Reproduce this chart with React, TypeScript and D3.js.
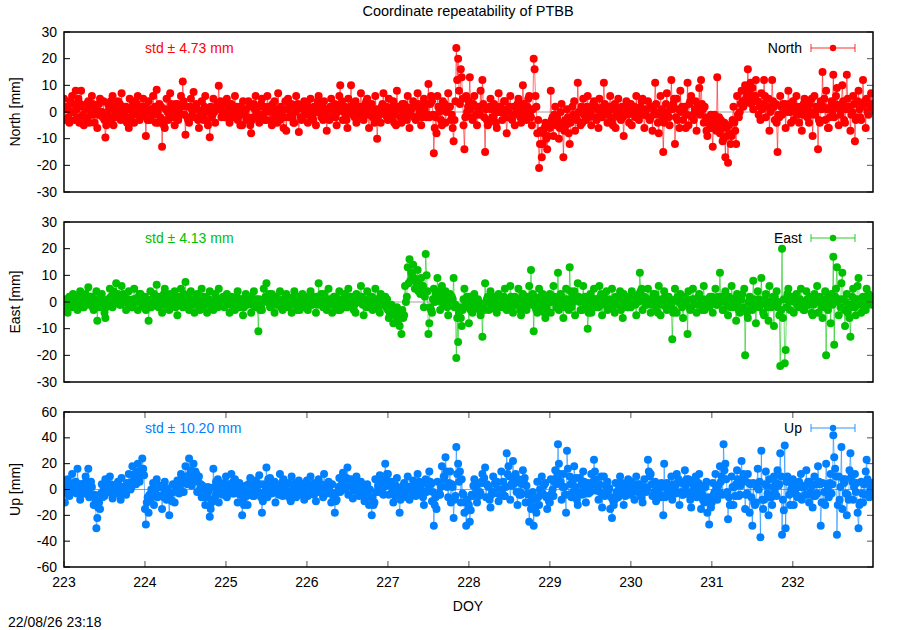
import * as d3 from 'd3';

// DOY of the first sample of each row; every row holds one day of samples, evenly spaced
const days = [223, 224, 225, 226, 227, 228, 229, 230, 231, 232];

const northRows = [
  [5, -3, 2, 1, 2, -2, -4, 4, 0, 6, 0, 3, -3, 8, 1, -2, 5, -4, 3, 8, 2, -1, -5, -2, 1, 3, -3, 4, -4, 1, -1, 6, 3, -1, -4, 0, 2, -6, -1, 3, 5, 0, 0, -2, 4, -3, -9.6, -5, -1, 3, 1, -2, 4, -3, 6, -5, 2, 0, 1, -2, 4, -2, 3, -3, 7, 0, 2, -1, -3, 2, -4, 1, -6, 5, -2, 1, 0, 3, -4, 4, -1, 3, 6, 1, -3, -2, 2, 1, 5, -1],
  [2, -9, 0, -3, 4, 1, -3, 1, -1, 6, -1, 2, -4, 8.3, 0, -4, 3, -2, 2, -13, -3, -5, -6, 1, 5, 0, -3, -2, 7, 3, 2, 0, -2, -5, 3, 1, 3, -3, 0, -1, 6, 2, 11.4, 4, -1, -8.5, 2, -2, -3, -4, 2, 5, 1, -1, 7.5, -2, 1, 3, 1, -3, -6, -2, 0, 4, -1, -3, 2, 6, 0, -3, -5, 1, -9.5, 2, -2, -1, 5, 0, -4, 1, 2, 3, 9.8, 1, 4, -2, -1, 0, 3, -2],
  [-2, 5, 0, 1, -4, 2, 3, -1, -2, 0, 6, 1, 2, -3, 0, 2, -5, -1, -5, 4, 1, 0, 1, -3, -2, 4, 2, -5, -8, -3, -2, 3, 1, 6, 0, -2, -1, -4, 2, 3, 5, -1, 2, -3, 0, -3, 6, 2, 1, 0, -3, -5, 3, 0, 4, -2, 1, -4, 7, -1, -3, 2, 0, 1, -6, -2, 4, -7, 1, 5, -2, 2, -1, 3, -2, -4, -4, 0, 6, 1, 3, -7.5, 2, -2, -3, -2, 1, 4, 0, -1],
  [3, -4, 0, 1, 5, -2, -1, -3, 2, 2, -5, 0, 4, 6, 1, 0, -2, 3, -3, 4, -1, 1, -7, -2, 1, -3, 2, 5, -2, 0, 2, 3, -2, -5, 0, 1, 6, 10, 3, 4, -3, 0, 2, -1, -3, -6, 5, 1, 2, 10, 0, -1, 3, -2, 4, -4, 1, 0, 2, -1, 7, -2, 2, -3, 0, 3, 4, 5, -1, -6, 1, 2, 3, -2, 0, -4, 6, 1, -10, -3, -1, 1, -4, 2, 3, 7, 0, -1, 2, -2],
  [-3, 5, 0, 1, -2, 2, 4, -4, -1, -5, 8, 1, 2, 1, -2, -4, 3, 0, 3, -1, 2, -3, 6, -1, -6, 0, 1, 2, 4, -2, -2, -3, 2, 7, 3, 0, 0, -5, -2, 2, 5, 1, 3, -2, -1, 10.5, -2, 3, 6, 4, -1, -15.5, -6, -2, -8, 6, 2, 0, 1, -3, -5, 4, 1, 3, -4, 0, 1, 7, 2, 2, -3, -1, -6, -11, -3, 4, 24, 12, 20, 8, 3, 16, 13, 5, -5, -14, -2, 6, 0, 2],
  [4, 13, 1, -2, -3, 3, 6, 2, -1, -5, 2, 0, -1, 8, 2, 12, 3, -2, -15, 1, -3, -5, -4, 2, 5, 1, -2, -2, 3, 1, -4, -6, 0, 7, 0, 2, 0, -3, 1, 4, 4, -1, -8, -2, 1, 2, 6, -1, -3, -1, 2, -5, 2, 0, 3, 5, -1, -2, -4, 1, 10, 3, -1, 1, -3, 2, 5, 6, 0, -2, -5, 1, 20, 16, 6, 2, -8, -3, -21, -12, -7, -17, -12, -8, -6, -4, -10, -14, -9, -5],
  [-6, 8, -3, -2, -9, -1, 2, -5, -2, -4, -10, -6, 0, 3, -4, -17, -7, -3, -5, 1, -2, -8, -12, -4, -2, 2, -1, 4, -7, -2, -3, 11, 0, 0, -5, 2, -4, 5, -1, 1, -3, 2, 6, -2, 0, -1, -5, 1, 3, 4, -2, 2, -3, 1, -6, 5, -1, 0, -2, 2, 11, 3, -1, 1, -4, 0, 2, 6, -2, -3, -5, 1, 3, -6, -1, 1, 5, -2, 0, -3, 2, -2, -9, -1, 2, 4, 0, -1, -4, 1],
  [3, -5, 1, 0, 2, -2, 6, -2, 1, -3, 0, 2, 4, 5, -1, -6, -1, 1, 1, 4, -2, -3, -2, 2, -7, 2, 0, 11, 3, -1, -4, -8, 0, 6, 1, -2, -15, -4, 0, 3, 7, -1, -2, -5, 2, 12, 1, 3, 5, -12, -2, 5, -3, 1, -6, 8, 0, 2, -3, 1, 2, -6, -1, 11, -5, 3, 4, 6, -2, -1, -3, 1, 4, -7, 2, 0, 9, -1, 12, 3, 1, -4, 2, -2, -7, -9, -4, -3, -6, -1],
  [-6, -13, -4, -1, -2, -7, 13, -5, -2, -8, -3, -6, -11, -10, -4, -17, -6, -9, -19, -5, -8, -12, -9, -3, 2, -4, -7, -12, 6, -1, -2, 0, 3, 8, 4, 2, 3, 10, 5, 6, 16, 8, 5, 11, 3, 9, 1, 6, 6, 12, 4, 4, -1, 2, -3, 7, 1, 3, 12, 6, -2, 5, 2, 5, -7, 0, 1, 12, 4, 2, -3, 3, -4, -15, -1, -2, 6, 2, -1, 3, 0, 3, -6, 1, 0, 8, 3, 0, -4, 2],
  [4, -3, 0, 1, 6, 2, -1, -4, 1, 2, -7, -1, 3, 5, 0, 0, -2, 2, -4, 3, -1, 5, -9, 0, 6, -1, 2, 1, -14, -3, -4, 4, 1, 15, 2, 5, -3, 8, 1, -6, -6, -2, 2, 4, 0, 14, -2, 3, 6, 9, 2, -5, 1, -1, 3, 10, 4, -3, -4, 1, 14, 5, 2, 2, -7, -1, 0, 6, 3, -11, -3, -2, 4, 8, 1, -2, -3, 2, 12, 3, 4, -6, 5, 0, -1, 0, 2, 7, 3, 1],
];

const eastRows = [
  [-3, 1, -2, -1, -4, 1, 2, 0, -1, -2, 3, 1, -1, 0, 2, -3, 2, 0, 4, 1, -1, -2, -2, 1, 3, 0, 2, 5.5, -1, 1, 2, 2, -2, -3, 1, 0, 4, -7, -1, -2, 0, 2, 3, -1, 0, -4, -6, -2, -1, 1, 0, 5, 2, -1, -2, 4, 1, 0, 7, 2, 3, 1, -1, -1, 6, 2, 3, 2, 0, -3, 0, 1, 4, 0, -1, -2, -2, 1, 5, 1, 0, 1, -3, 2, 3, 3, 0, -1, 1, -2],
  [2, -3, 1, 0, -7, -2, 4, -2, 1, -1, 3, 0, 1, 6.5, 2, -2, 2, 0, 1, -4, -1, 3, 5, 1, 0, -2, 2, -3, 3, -1, 1, -1, 2, 4, -2, 0, -5, 2, -1, 0, 5, 1, -2, 3, 0, 7.5, 1, 2, -1, -3, 1, 4, 1, -1, 0, -4, -1, 2, 3, 0, -1, -3, 1, 5, -2, 2, 1, 2, -1, -4, 0, 1, 4, 0, -2, -2, -3, 0, 3, 1, -1, -2, 5, 1, 0, -1, 1, 2, -2, 0],
  [-1, 3, 1, 0, -4, -1, 2, -1, 0, 0, -3, 1, 2, 4, -1, -2, 1, 0, 1, -5, -2, -1, 3, 0, -1, 2, 1, 2, -4, -1, 0, 4, 1, -2, 1, -1, -11, 1, -3, -2, -3, 0, 5, 1, 2, 7, 0, 1, 3, -2, 0, 3, -1, 1, -4, 2, -1, 0, -1, 1, 4, -2, 0, -3, 1, -1, 2, 3, 0, -2, 0, 1, 0, -4, -1, 2, 4, 1, -1, -3, 0, 2, -3, -1, 1, 3, 0, 0, -2, 1],
  [2, -3, 1, 0, 4, -1, -1, 2, 0, 1, -4, 2, -1, 7, 1, 0, 3, -1, -2, 3, 0, 1, -3, 1, 5, 0, -1, 1, -4, 0, 2, 2, -2, -1, -3, 1, 4, -3, 0, 1, 0, -2, 3, -2, 1, -2, 5, 0, 2, -1, 1, 2, -3, -1, -4, 3, 0, 0, 0, 1, 6, 2, -1, -5, 1, 0, -2, 4, 1, -2, 1, 2, 2, -3, 0, 0, 5, 1, 0, -2, -1, -4, 3, 1, 1, -1, 0, 2, -2, 1],
  [-3, -6, -4, -2, -1, -3, -8, -4, -5, -4, -2, -7, -6, -9, -4, -12, -3, -6, -5, 6, 0, 2, 13, 7, 16, 8, 11, 10, 14, 9, 5, 8, 6, 12, 4, 7, 3, 9, 5, 6, -2, 2, 18, 10, 4, -12, -8, -2, -3, -4, 1, 5, 0, 3, 2, 9, 1, 4, -3, 0, 6, 1, 3, -1, 4, 0, -2, -5, 1, 3, 0, 2, 1, 9, -2, -1, -21, -6, -15, -4, -2, -6, -9, -3, 1, 5, 0, -2, 2, -1],
  [-8, 2, -3, -2, -4, 0, 3, 0, -1, -2, 1, 0, -3, -5, -1, -13, -1, -3, 7, 0, 1, 2, -3, 0, 4, -1, 1, -1, 2, -2, -3, -4, 0, 3, 1, -1, 1, -2, 0, 2, 5, 1, -3, 0, -1, 0, 6, 2, -2, -4, 0, 2, 1, -1, -1, 5, 1, -3, -5, 0, 3, 1, -2, 0, -3, 1, 2, 6, 0, 12, -1, 3, -11, 2, -2, -3, -4, 0, 5, 0, 2, -2, 3, -1, -4, -6, -2, 1, 2, 0],
  [3, -4, 0, 1, 6, 2, 0, -2, 1, 11, -3, 2, 3, 2, -1, -6, 0, -2, 5, 1, 0, -3, 13, 4, -2, 2, 0, 4, -5, 1, 1, 7, 2, 0, -3, 1, -3, 6, 0, 2, -1, 1, -10, -4, -2, 3, -4, 0, 0, 5, 1, 1, -2, -1, -2, 6, 2, 3, -5, 0, 2, -1, 1, 4, -3, 0, 1, 0, -2, 5, -2, 1, -4, 2, 0, 0, -1, 2, 4, -3, 0, -6, 3, -1, 1, 1, -2, -2, 2, 0],
  [-2, 4, 0, 1, 0, -1, -5, 2, 0, 3, 11, 4, 5, -3, 1, 2, -1, 0, -1, 5, 1, 0, -4, -1, 1, 3, 0, 3, -2, 1, -4, 6, 0, -5, 1, -1, 0, 4, 2, -2, -3, 0, 2, 1, -1, -1, -14, -4, -3, 5, 1, -4, 2, 0, 1, 3, -1, -2, -6, -1, 2, 0, 1, -12, 4, -2, -3, -2, 1, 5, 1, 0, 0, -4, -1, 2, 3, 0, -1, -3, 1, 6, -3, 0, 0, 1, -1, -2, 2, 1],
  [2, -4, 1, 0, 5, -1, -1, 2, 0, 11, 0, 2, -3, -3, 1, 4, 1, -1, -5, 2, 0, -2, 6, 1, -2, 1, -1, -7, 3, 0, -3, -4, 1, 1, 3, -2, 5, -20, -3, -4, -6, 0, 2, 0, -2, -3, 8, 1, -2, -8, -1, 4, 1, -2, -1, 9, 0, -4, -5, 1, 3, 0, -2, -7, 6, 0, -2, 0, 2, -9, 2, -1, 4, -2, 0, -5, -24, -3, 20, -6, 1, -23, -18, -2, 3, 5, 0, -3, 1, 2],
  [1, -4, 0, 2, 3, -1, -2, 0, 1, 5, 0, -2, -3, -3, 0, 4, 1, -1, -1, 2, 1, -4, -5, -1, 3, 0, 1, 6, -4, 0, 2, 1, -2, -6, -1, 1, 4, -20, -2, -3, 2, 0, -8, 3, -1, 17, -16, 2, 5, 13, 0, -5, 1, -2, 7, 11, 1, -3, -9, 0, 3, -4, -1, -6, -13, -2, 2, 5, 0, -2, -5, 1, 6, 9, -1, 1, -4, 0, 2, -2, 1, -3, 5, -1, 3, 0, 1, 2, -1, 0],
];

const upRows = [
  [3, -10, -2, 2, 8, -4, -5, -1, 4, 12, -2, 1, 5, 6, -3, 16, 0, 4, -8, 4, -1, -3, -3, 5, 10, 3, -2, 16, -6, 2, 6, 2, -4, -12, -4, -8, -30, -22, -14, -10, -15, -3, 4, -6, 0, -5, 8, 2, 0, -2, 4, 10, 4, -3, -7, 3, 0, -2, -3, 3, 6, 1, -4, -8, 9, 2, -1, 1, -3, -4, 5, 3, 12, 5, 0, 2, 18, 7, 8, 12, 4, 14, 20, 9, 6, 10, 15, 24, 16, 11],
  [-15, -27, -10, -6, -18, -4, -8, 0, -3, 5, -12, 0, -3, 8, -6, -5, 2, 3, 2, -15, -4, -6, 6, -2, -8, 1, -5, -20, -3, -8, -9, 4, -2, -10, -1, 2, 7, 0, -3, 3, 12, 6, 5, -2, 8, 18, 10, 4, 6, 24, 12, 15, 3, 9, 20, 8, 14, 12, -2, 6, 10, 0, 4, -6, 3, -2, -3, -12, -6, -4, 2, -1, -21, -15, -10, -8, 16, 2, -5, 6, -2, 8, -10, 2, 0, 4, -4, -2, 5, 1],
  [10, -6, 4, 2, 4, -2, 12, -3, 6, -3, 8, 0, 1, -10, -3, 5, -4, 2, -20, -8, -12, -2, 3, -5, -12, 4, -3, 9, 0, 5, -5, -5, 2, 7, 2, -2, -2, 11, 4, -6, -18, -9, 4, -2, 2, 17, -6, 8, 5, 9, -1, -3, 3, 1, 6, -10, -2, 0, 2, -4, 12, -4, 5, -5, 8, 0, 1, -1, 4, 5, -6, -2, -9, 10, -3, 2, 0, 5, -6, 4, -2, 7, -2, 3, -4, 4, -1, -8, 1, 2],
  [7, -5, 2, 1, 10, 4, -2, 3, -4, 5, -9, 0, -2, 8, 3, 0, 4, -3, -6, 12, 2, -1, -3, 4, 6, 2, -2, -10, 4, -5, -4, -18, -9, -8, -2, 2, 9, -2, 3, 4, 13, 7, 5, 0, 9, 17, -4, 4, 6, 8, 2, -7, -1, 3, 2, 10, 5, -3, -5, 1, 6, 2, -2, -1, -9, -5, -4, 4, 0, -12, 0, -6, -20, -6, -12, -10, 8, -2, -2, 3, 4, 11, 3, 6, -3, -4, 2, 20, 8, 12],
  [12, -4, 6, 3, 6, -2, -10, -1, -5, 3, 9, 1, -3, -18, -8, -6, 0, 3, 5, -2, 1, -6, 10, 2, -8, 2, -3, 2, 7, 0, -4, -5, 3, 12, 1, 6, -3, 4, -1, -6, -12, -2, 8, -2, 4, -1, 14, 6, 4, -9, -2, -28, -12, -6, -15, 6, -4, -3, -4, 2, 18, 5, 10, 10, 25, 14, 2, -6, 5, 14, -10, 4, 2, -22, -8, -5, 33, 12, 20, 6, 14, -10, 8, -3, -4, -18, -10, -28, -8, -16],
  [-12, -25, -16, -4, -5, 3, 8, 2, -2, -10, 4, -5, -2, -3, 6, 12, 5, 9, 17, -6, 4, 3, 2, -8, -14, -4, -2, 10, -2, 5, 4, 6, -3, -9, 0, -4, 14, 0, 6, -5, -5, 2, 28, 12, 18, 10, -8, 4, 3, 22, 8, 5, 12, -2, -12, 8, -4, -2, -4, 4, 15, 6, 9, -10, 3, -3, -4, -25, -10, -15, -6, -2, -28, -8, -14, -18, 6, -6, -12, 0, -4, 10, -3, 3, 4, 5, -6, -15, -5, -9],
  [-10, 8, -3, 0, -5, 6, 15, 4, 10, 35, 20, 12, 6, -8, 2, 12, 2, -4, -18, 30, 16, -4, 10, 4, -6, 5, -2, 18, 2, 9, -8, -12, -3, 9, -2, 4, -4, 14, 6, 3, -10, -2, 5, -3, 2, -2, 12, 4, 6, 23, 14, 8, -1, 3, -8, 4, -2, 10, -14, -4, 10, -5, 3, -3, 6, -1, 1, -15, -6, -22, -8, -12, -8, 5, -2, -3, -6, 2, 10, 2, 5, -2, -12, -4, -5, 4, 0, 8, -2, 3],
  [-4, 6, -1, 1, -8, 3, 10, -2, 4, -2, 4, -4, -6, -10, 0, 8, 2, -2, 0, 23, 14, 10, 12, 4, -5, 4, -2, 6, -9, 1, -2, 3, -4, -6, 5, 2, -20, 20, -6, -4, 5, 1, -3, 2, -5, 10, -8, 4, -2, 2, -3, 12, 5, 8, -12, 6, -2, -4, -4, 4, 15, 3, 8, -2, 8, -4, -8, -14, -2, 4, 0, 6, 10, -6, 2, 5, 12, -2, -15, -3, -8, 3, -10, 2, 6, -18, -6, -27, -8, -14],
  [-10, 5, -4, -2, 12, 3, -8, 3, -2, 18, 6, 10, -4, 35, 15, 20, 8, -2, -23, -6, -12, -12, 10, 2, -12, 2, -5, 4, 15, 8, -5, -4, 3, 22, 6, 12, 8, -15, -4, -3, 12, 5, -18, 4, -6, -28, 5, -10, -12, -10, 2, 16, 0, 6, -37, 30, -8, -15, -8, 4, 14, 3, -3, -20, 8, -6, -6, -12, 2, 10, -2, 5, -5, 15, 3, 4, 28, 10, -35, -8, -16, 34, -30, 6, 10, 6, -4, -12, 0, 5],
  [8, -12, -3, 0, 4, -6, -5, 6, 2, 12, -8, 3, 2, 2, -4, 15, -4, 6, -10, 6, -2, 3, -14, -5, 10, -5, 4, -3, 18, 6, 4, -28, -10, 5, -10, -2, -12, 20, 4, 2, -6, 5, 12, -3, 4, 42, 25, 16, 10, -35, -12, 10, -8, 2, 33, -15, 8, 5, 8, -3, -20, -4, -8, 15, 28, 10, 6, -8, 2, 12, -2, 5, -18, -30, -12, -10, 6, -3, -10, 4, -4, 14, 23, 8, -3, -6, 2, 5, 2, -2],
];

const neTicks = [-30, -20, -10, 0, 10, 20, 30];
const upTicks = [-60, -40, -20, 0, 20, 40, 60];
const doyTicks = [223, 224, 225, 226, 227, 228, 229, 230, 231, 232];

const components = ['North', 'East', 'Up'];
const stdValues = ['4.73', '4.13', '10.20'];

const W = 900;
const H = 630;
const FONT = '"Liberation Sans", Arial, Helvetica, sans-serif';
const colors = ['#ff0000', '#00c000', '#0080ff'];
const panelBoxes = [
  { top: 32, bottom: 192 },
  { top: 222, bottom: 382 },
  { top: 412, bottom: 567 },
];

const x = d3.scaleLinear().domain([223, 232.99]).range([64, 873]);

function toSeries(rows: number[][]) {
  const pts: [number, number][] = [];
  rows.forEach((row, r) => {
    row.forEach((v, i) => pts.push([days[r] + i / row.length, v]));
  });
  return pts;
}

function Panel({ idx, rows, ticks, showX }: { idx: number; rows: number[][]; ticks: number[]; showX: boolean }) {
  const box = panelBoxes[idx];
  const color = colors[idx];
  const name = components[idx];
  const y = d3.scaleLinear().domain([ticks[0], ticks[ticks.length - 1]]).range([box.bottom, box.top]);
  const data = toSeries(rows);
  const line = d3.line<[number, number]>().x(d => x(d[0])).y(d => y(d[1]));
  const [x0, x1] = x.range();
  const clipId = `clip-${idx}`;
  const legY = box.top + 16;

  return (
    <g>
      <defs>
        <clipPath id={clipId}>
          <rect x={x0} y={box.top} width={x1 - x0} height={box.bottom - box.top} />
        </clipPath>
      </defs>
      {/* zero axis */}
      <line x1={x0} x2={x1} y1={y(0)} y2={y(0)} stroke="#a0a0a0" strokeWidth={1} />
      <g clipPath={`url(#${clipId})`}>
        <path d={line(data) ?? ''} fill="none" stroke={color} strokeOpacity={0.55} strokeWidth={1} />
        {data.map((d, i) => (
          <circle key={i} cx={x(d[0])} cy={y(d[1])} r={4} fill={color} />
        ))}
      </g>
      {/* y ticks, both sides */}
      {ticks.map(t => (
        <g key={t}>
          <line x1={x0} x2={x0 + 6} y1={y(t)} y2={y(t)} stroke="#000" />
          <line x1={x1} x2={x1 - 6} y1={y(t)} y2={y(t)} stroke="#555" />
          <text x={x0 - 7} y={y(t) + 4.5} textAnchor="end" fontSize={14} fontFamily={FONT}>
            {t}
          </text>
        </g>
      ))}
      {showX &&
        doyTicks.map(t => (
          <g key={t}>
            <line x1={x(t)} x2={x(t)} y1={box.bottom} y2={box.bottom - 6} stroke="#555" />
            <line x1={x(t)} x2={x(t)} y1={box.top} y2={box.top + 6} stroke="#555" />
            <text x={x(t)} y={box.bottom + 20} textAnchor="middle" fontSize={14} fontFamily={FONT}>
              {t}
            </text>
          </g>
        ))}
      <rect x={x0} y={box.top} width={x1 - x0} height={box.bottom - box.top} fill="none" stroke="#000" strokeWidth={1.5} />
      <text
        transform={`translate(${20},${(box.top + box.bottom) / 2}) rotate(-90)`}
        textAnchor="middle"
        fontSize={14}
        fontFamily={FONT}
      >
        {name} [mm]
      </text>
      <text x={145} y={legY + 5} fontSize={14} fontFamily={FONT} fill={color}>
        std ± {stdValues[idx]} mm
      </text>
      {/* legend */}
      <text x={802} y={legY + 5} textAnchor="end" fontSize={14} fontFamily={FONT}>
        {name}
      </text>
      <g stroke={color} strokeOpacity={0.55} strokeWidth={1.5}>
        <line x1={811} x2={855} y1={legY} y2={legY} />
        <line x1={811} x2={811} y1={legY - 4} y2={legY + 4} />
        <line x1={855} x2={855} y1={legY - 4} y2={legY + 4} />
      </g>
      <circle cx={833} cy={legY} r={3.2} fill={color} />
    </g>
  );
}

export default function App() {
  const rowsList = [northRows, eastRows, upRows];
  const tickList = [neTicks, neTicks, upTicks];
  return (
    <svg
      width={W}
      height={H}
      viewBox={`0 0 ${W} ${H}`}
      style={{ position: 'absolute', left: 0, top: 0, background: '#fff' }}
    >
      <rect width={W} height={H} fill="#fff" />
      <text x={468} y={16} textAnchor="middle" fontSize={14.5} fontFamily={FONT}>
        Coordinate repeatability of PTBB
      </text>
      {rowsList.map((rows, i) => (
        <Panel key={i} idx={i} rows={rows} ticks={tickList[i]} showX={i === 2} />
      ))}
      <text x={468} y={611} textAnchor="middle" fontSize={14} fontFamily={FONT}>
        DOY
      </text>
      <text x={8} y={627} fontSize={14} fontFamily={FONT}>
        22/08/26 23:18
      </text>
    </svg>
  );
}
